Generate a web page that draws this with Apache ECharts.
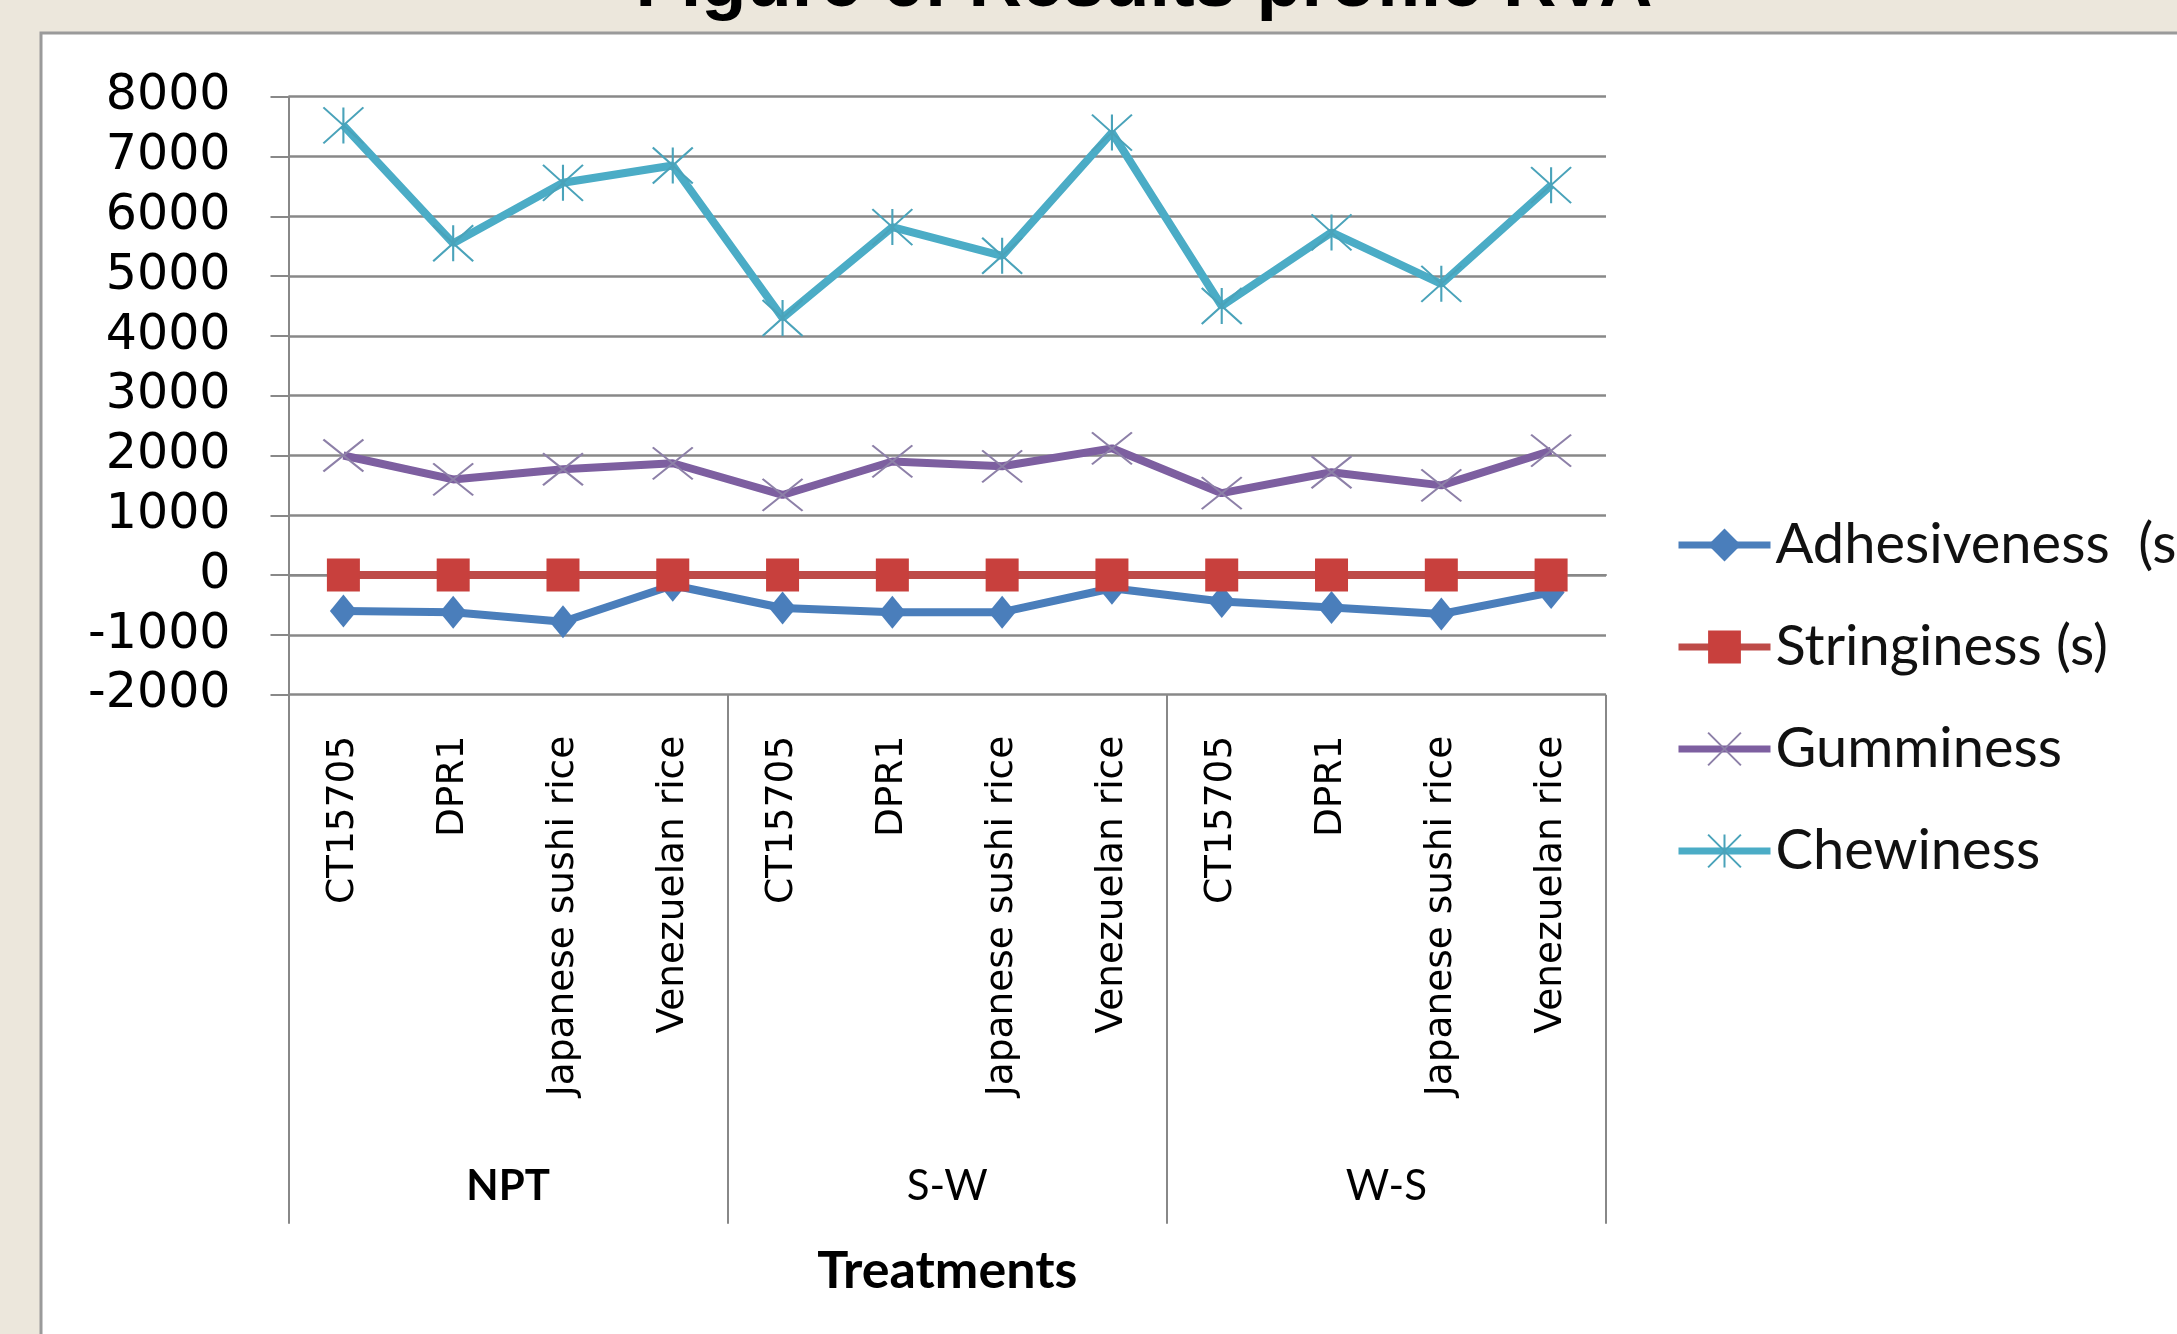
<!DOCTYPE html>
<html>
<head>
<meta charset="utf-8">
<title>Results profile RVA</title>
<script src="https://cdn.jsdelivr.net/npm/echarts@6/dist/echarts.min.js"></script>
<style>
  html, body { margin: 0; padding: 0; background: #ece7dc; }
  #chart { width: 2177px; height: 1334px; }
</style>
</head>
<body>
<div id="chart"></div>
<script>
// Treatment groups and the rice varieties measured under each
const treatments = ['NPT', 'S-W', 'W-S'];
const varieties = [
  'CT15705', 'DPR1', 'Japanese sushi rice', 'Venezuelan rice',
  'CT15705', 'DPR1', 'Japanese sushi rice', 'Venezuelan rice',
  'CT15705', 'DPR1', 'Japanese sushi rice', 'Venezuelan rice'
];

// Texture profile values
const adhesiveness = [-600, -620, -780, -170, -550, -620, -620, -220, -440, -540, -650, -290];
const stringiness  = [0, 0, 0, 0, 0, 0, 0, 0, 0, 0, 0, 0];
const gumminess    = [2000, 1600, 1770, 1870, 1340, 1900, 1820, 2120, 1370, 1720, 1500, 2080];
const chewiness    = [7520, 5550, 6560, 6850, 4300, 5820, 5340, 7400, 4500, 5730, 4870, 6520];

// Value axis range
const yMin = -2000, yMax = 8000, yStep = 1000;

const gridColor = '#888888';
const xMark = 'path://M0,0L10,10M10,0L0,10';
const starMark = 'path://M0,0L10,10M10,0L0,10M5,0L5,10';

const chart = echarts.init(document.getElementById('chart'), null, { renderer: 'canvas' });

chart.setOption({
  animation: false,
  backgroundColor: '#ece7dc',
  title: {
    text: 'Figure 6: Results profile RVA',
    left: 1139,
    top: -56,
    textAlign: 'center',
    textStyle: {
      fontFamily: '"Liberation Sans Narrow", "Liberation Sans", Arial, sans-serif',
      fontWeight: 'bold',
      fontSize: 74,
      color: '#000'
    }
  },
  graphic: [{
    type: 'rect',
    z: -10,
    silent: true,
    shape: { x: 41, y: 33, width: 2160, height: 1320 },
    style: { fill: '#ffffff', stroke: '#9a9a9a', lineWidth: 3 }
  }],
  grid: { left: 288.5, right: 571, top: 96.7, bottom: 639.3, containLabel: false },
  legend: {
    orient: 'vertical',
    left: 1670,
    top: 512,
    itemWidth: 92,
    itemHeight: 41,
    itemGap: 46,
    lineStyle: { width: 7 },
    textStyle: { fontFamily: 'Lato, "Open Sans", sans-serif', fontSize: 56, color: '#111' },
    data: ['Adhesiveness  (s)', 'Stringiness (s)', 'Gumminess', 'Chewiness']
  },
  xAxis: [{
    type: 'category',
    data: varieties,
    boundaryGap: true,
    axisLine: { show: true, lineStyle: { color: gridColor, width: 2 } },
    axisTick: { show: false },
    axisLabel: {
      interval: 0,
      rotate: 90,
      margin: 41,
      fontFamily: '"DejaVu Sans", Verdana, sans-serif',
      fontSize: 37.5,
      color: '#000'
    },
    splitLine: { show: false }
  }, {
    type: 'category',
    data: treatments,
    position: 'bottom',
    boundaryGap: true,
    axisLine: { show: false },
    axisTick: { show: true, length: 529, interval: 0, lineStyle: { color: gridColor, width: 2 } },
    axisLabel: {
      interval: 0,
      margin: 471,
      fontFamily: 'Lato, "Open Sans", sans-serif',
      fontSize: 42,
      color: '#000',
      formatter: function (v) { return v === 'NPT' ? '{b|' + v + '}' : v; },
      rich: { b: { fontFamily: 'Lato, "Open Sans", sans-serif', fontSize: 42, fontWeight: 'bold', color: '#000' } }
    },
    name: 'Treatments',
    nameLocation: 'middle',
    nameGap: 551,
    nameTextStyle: { fontFamily: 'Lato, "Open Sans", sans-serif', fontSize: 52, fontWeight: 'bold', color: '#000' }
  }],
  yAxis: {
    type: 'value',
    min: yMin,
    max: yMax,
    interval: yStep,
    axisLine: { show: true, lineStyle: { color: gridColor, width: 2 } },
    axisTick: { show: true, length: 18, lineStyle: { color: gridColor, width: 2 } },
    axisLabel: {
      margin: 58,
      fontFamily: '"DejaVu Sans", Verdana, sans-serif',
      fontSize: 49,
      color: '#000',
      formatter: function (v) { return String(v); }
    },
    splitLine: { show: true, lineStyle: { color: gridColor, width: 2.5 } }
  },
  series: [{
    name: 'Adhesiveness  (s)',
    type: 'line',
    data: adhesiveness,
    symbol: 'diamond',
    symbolSize: [27, 33],
    lineStyle: { color: '#4a7ebb', width: 8 },
    itemStyle: { color: '#4a7ebb' },
    emphasis: { disabled: true },
    z: 3
  }, {
    name: 'Stringiness (s)',
    type: 'line',
    data: stringiness,
    symbol: 'rect',
    symbolSize: 33,
    lineStyle: { color: '#be4b48', width: 8 },
    itemStyle: { color: '#c8403d' },
    emphasis: { disabled: true },
    z: 4
  }, {
    name: 'Gumminess',
    type: 'line',
    data: gumminess,
    symbol: xMark,
    symbolSize: [40, 32],
    lineStyle: { color: '#7d5fa0', width: 8 },
    itemStyle: { color: 'rgba(0,0,0,0)', borderColor: '#8d80a8', borderWidth: 2 },
    emphasis: { disabled: true },
    z: 3
  }, {
    name: 'Chewiness',
    type: 'line',
    data: chewiness,
    symbol: starMark,
    symbolSize: [40, 36],
    lineStyle: { color: '#4bacc6', width: 8 },
    itemStyle: { color: 'rgba(0,0,0,0)', borderColor: '#4aa3ba', borderWidth: 2 },
    emphasis: { disabled: true },
    z: 3
  }]
});
</script>
</body>
</html>
